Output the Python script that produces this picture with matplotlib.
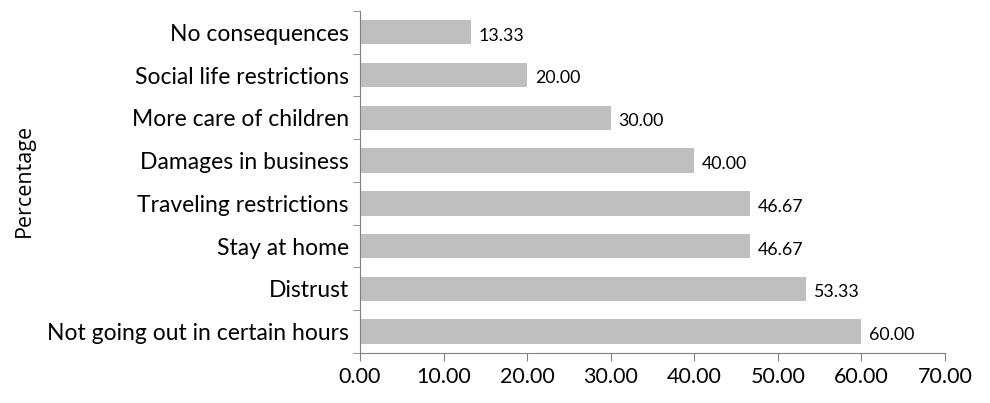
import matplotlib.pyplot as plt
import numpy as np

categories = ["No consequences", "Social life restrictions", "More care of children",
              "Damages in business", "Traveling restrictions", "Stay at home",
              "Distrust", "Not going out in certain hours"]
values = [13.33, 20.00, 30.00, 40.00, 46.67, 46.67, 53.33, 60.00]
xticks = [0, 10, 20, 30, 40, 50, 60, 70]

plt.rcParams['font.family'] = ['Lato', 'DejaVu Sans']

fig = plt.figure(figsize=(9.9, 4.03), dpi=100)
ax = fig.add_axes([0.3636, 0.124, 0.591, 0.849])

y = np.arange(len(categories))
ax.barh(y, values, height=0.57, color="#bfbfbf")
for yi, v in zip(y, values):
    ax.text(v + 0.9, yi + 0.08, "%.2f" % v, va="center", ha="left", fontsize=12.8)

ax.set_ylim(len(categories) - 0.5, -0.5)
ax.set_xlim(0, 70)
ax.set_yticks(y)
ax.set_yticklabels(categories, fontsize=16.5)
ax.tick_params(axis="y", length=0, pad=8)
ax.set_yticks(np.arange(-0.5, len(categories)), minor=True)
ax.tick_params(axis="y", which="minor", length=5, color="#808080")
ax.set_xticks(xticks)
ax.set_xticklabels(["%.2f" % t for t in xticks], fontsize=15.5)
ax.tick_params(axis="x", length=6, color="#808080", pad=4)

for s in ["top", "right"]:
    ax.spines[s].set_visible(False)
for s in ["left", "bottom"]:
    ax.spines[s].set_color("#808080")

fig.text(0.025, 0.553, "Percentage", rotation=90, va="center", ha="center", fontsize=15.5,
         family=["Open Sans", "DejaVu Sans"])

fig.savefig("out.png", dpi=100)
